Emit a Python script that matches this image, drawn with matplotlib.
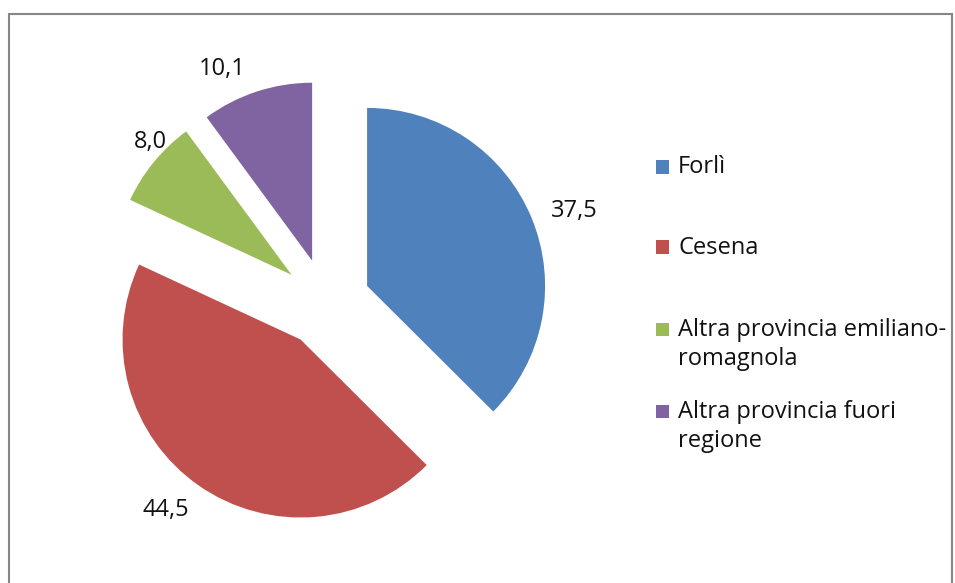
import numpy as np
import matplotlib.pyplot as plt
from matplotlib.patches import Rectangle

# dati
categorie = ['Forlì', 'Cesena', 'Altra provincia emiliano-\nromagnola', 'Altra provincia fuori\nregione']
valori = [37.5, 44.5, 8.0, 10.1]
colori = ['#4F81BD', '#C0504D', '#9BBB59', '#8064A2']

plt.rcParams['font.family'] = ['Open Sans', 'DejaVu Sans']

W, H = 955, 583
fig = plt.figure(figsize=(W / 100, H / 100), dpi=100)

# cornice grigia stile Excel
fig.patches.append(Rectangle((9 / W, -0.05), (952 - 9) / W, 1.05 - 14 / H,
                             transform=fig.transFigure, fill=False,
                             edgecolor='#868686', linewidth=1.5))

# assi in pixel: raggio 178 px, centro (326, 303)
R, cx, cy = 178, 326, 303
ax = fig.add_axes([0, 0, 1, 1])
wedges, _ = ax.pie(valori, colors=colori, startangle=90, counterclock=False,
                   explode=[0.25] * 4, radius=1.0,
                   wedgeprops=dict(linewidth=0))
ax.set_aspect('auto')
ax.set_xlim(-cx / R, (W - cx) / R)
ax.set_ylim(-(H - cy) / R, cy / R)
ax.axis('off')

# etichette valori (posizione "adattata" come in Excel)
dist = [1.24, 1.22, 1.09, 1.19]
dang = [-2.7, -3.4, -3.9, 6.9]
for w, v, d, da in zip(wedges, valori, dist, dang):
    ang = np.deg2rad((w.theta1 + w.theta2) / 2 + da)
    x0, y0 = w.center
    ax.text(x0 + d * np.cos(ang), y0 + d * np.sin(ang),
            f'{v:.1f}'.replace('.', ','), ha='center', va='center',
            fontsize=17, color='#111111')

# legenda manuale
leg_y = [167, 247, 329, 411]
for c, lab, y in zip(colori, categorie, leg_y):
    fig.patches.append(Rectangle((656 / W, 1 - (y + 6.5) / H), 13 / W, 13 / H,
                                 transform=fig.transFigure, facecolor=c,
                                 edgecolor='none'))
    fig.text(678 / W, 1 - (y - 11.5) / H, lab, ha='left', va='top',
             fontsize=17, color='#111111', linespacing=1.33)

fig.savefig('out.png', dpi=100)
